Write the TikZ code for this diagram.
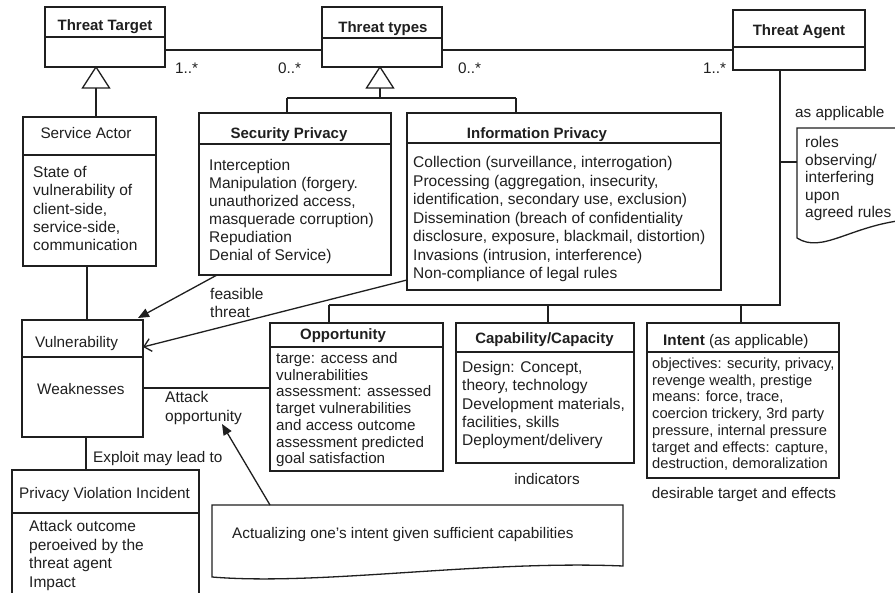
\documentclass[tikz,border=0pt]{standalone}
\usepackage{fontspec}
\setmainfont{Liberation Sans}
\usetikzlibrary{arrows.meta,calc}
\begin{document}
\begin{tikzpicture}[x=1pt,y=-1pt,
  ink/.style={draw=black!88, line width=1.3pt},
  box/.style={ink, rectangle, inner sep=0pt, outer sep=0pt, anchor=north west},
  conn/.style={ink},
  tri/.style={ink, fill=white, line join=miter},
  title/.style={font=\fontsize{15}{18}\selectfont\bfseries, text=black!88, inner sep=0pt, anchor=base},
  plain/.style={font=\fontsize{15.3}{18}\selectfont, text=black!88, inner sep=0pt, anchor=base west},
  bodytext/.style={font=\fontsize{15.5}{#1}\selectfont, text=black!88, inner sep=0pt, anchor=north west, align=left},
  filled/.style={-{Triangle[length=11pt,width=9pt]}},
  openhead/.style={-{Straight Barb[length=7pt,width=13pt]}},
]
\clip (0,0) rectangle (895,593);
\fill[white] (0,0) rectangle (895,593);

% ---------- class boxes ----------
\node[box, minimum width=120pt, minimum height=60pt]  (tt) at (45,7) {};
\node[box, minimum width=120pt, minimum height=60pt]  (ty) at (322,7) {};
\node[box, minimum width=132pt, minimum height=60pt]  (ta) at (733,10) {};
\node[box, minimum width=133pt, minimum height=149pt] (sa) at (23,117) {};
\node[box, minimum width=192pt, minimum height=162pt] (sp) at (199,113) {};
\node[box, minimum width=314pt, minimum height=177pt] (ip) at (407,113) {};
\node[box, minimum width=121pt, minimum height=117pt] (vu) at (22,320) {};
\node[box, minimum width=173pt, minimum height=148pt] (op) at (270,323) {};
\node[box, minimum width=178pt, minimum height=140pt] (cc) at (456,323) {};
\node[box, minimum width=192pt, minimum height=155pt] (in) at (647,323) {};
\node[box, minimum width=187pt, minimum height=140pt] (pv) at (12,470) {};

% compartment dividers
\draw[ink] (tt.west |- 0,37)  -- (tt.east |- 0,37);
\draw[ink] (ty.west |- 0,38)  -- (ty.east |- 0,38);
\draw[ink] (ta.west |- 0,47)  -- (ta.east |- 0,47);
\draw[ink] (sa.west |- 0,155) -- (sa.east |- 0,155);
\draw[ink] (sp.west |- 0,144) -- (sp.east |- 0,144);
\draw[ink] (ip.west |- 0,143) -- (ip.east |- 0,143);
\draw[ink] (vu.west |- 0,357) -- (vu.east |- 0,357);
\draw[ink] (op.west |- 0,347) -- (op.east |- 0,347);
\draw[ink] (cc.west |- 0,352) -- (cc.east |- 0,352);
\draw[ink] (in.west |- 0,352) -- (in.east |- 0,352);
\draw[ink] (pv.west |- 0,513) -- (pv.east |- 0,513);

% ---------- titles ----------
\node[title] (ttT) at (105,30.4)  {Threat Target};
\node[title] (tyT) at (383,32.4)  {Threat types};
\node[title] (taT) at (799,35.4)  {Threat Agent};
\node[title, font=\fontsize{15.3}{18}\selectfont] (saT) at (86,138.4) {Service Actor};
\node[title] (spT) at (289,138.4) {Security Privacy};
\node[title] (ipT) at (537,138.4) {Information Privacy};
\node[plain] (vuT) at (35,347.4)  {Vulnerability};
\node[plain] (vuW) at (37,394.4)  {Weaknesses};
\node[title] (opT) at (343,339.4) {Opportunity};
\node[title] (ccT) at (544.5,343.4) {Capability/Capacity};
\node[plain] (inT) at (663,345.4) {\textbf{Intent} (as applicable)};
\node[plain] (pvT) at (19,498.4)  {Privacy Violation Incident};

% ---------- compartment texts ----------
\node[bodytext=18.3] (saB) at (33,164.6) {\strut State of\\vulnerability of\\client-side,\\service-side,\\communication};
\node[bodytext=18] (spB) at (209,157.8) {\strut Interception\\Manipulation (forgery.\\unauthorized access,\\masquerade corruption)\\Repudiation\\Denial of Service)};
\node[bodytext=18.5] (ipB) at (413,154.5) {\strut Collection (surveillance, interrogation)\\Processing (aggregation, insecurity,\\identification, secondary use, exclusion)\\Dissemination (breach of confidentiality\\disclosure, exposure, blackmail, distortion)\\Invasions (intrusion, interference)\\Non-compliance of legal rules};
\node[bodytext=16.7, font=\fontsize{15.2}{16.7}\selectfont] (opB) at (276,351.7) {\strut targe: access and\\vulnerabilities\\assessment: assessed\\target vulnerabilities\\and access outcome\\assessment predicted\\goal satisfaction};
\node[bodytext=18.3] (ccB) at (462,359.6) {\strut Design: Concept,\\theory, technology\\Development materials,\\facilities, skills\\Deployment/delivery};
\node[bodytext=16.7, font=\fontsize{14.7}{16.7}\selectfont] (inB) at (652,356.7) {\strut objectives: security, privacy,\\revenge wealth, prestige\\means: force, trace,\\coercion trickery, 3rd party\\pressure, internal pressure\\target and effects: capture,\\destruction, demoralization};
\node[bodytext=18.7] (pvB) at (29,518.3) {\strut Attack outcome\\peroeived by the\\threat agent\\Impact};

% ---------- generalizations ----------
\draw[tri] (96,67) -- (82.5,88) -- (109.5,88) -- cycle;
\coordinate (ttg) at (96,88);
\draw[conn] (ttg) -- (ttg |- sa.north);

\draw[tri] (380,67) -- (366.5,88) -- (393.5,88) -- cycle;
\coordinate (tyg) at (380,88);
\coordinate (spbus) at (287,98);
\coordinate (ipbus) at (516,98);
\draw[conn] (tyg) -- (tyg |- spbus);
\draw[conn] (spbus) -- (ipbus);
\draw[conn] (spbus) -- (spbus |- sp.north);
\draw[conn] (ipbus) -- (ipbus |- ip.north);

% ---------- associations ----------
\draw[conn] (tt.east |- 0,50) -- (ty.west |- 0,50);
\draw[conn] (ty.east |- 0,50) -- (ta.west |- 0,50);
\node[plain] (m1) at (175,73.4) {1..*};
\node[plain] (m2) at (278,73.4) {0..*};
\node[plain] (m3) at (458,73.4) {0..*};
\node[plain] (m4) at (703,73.4) {1..*};

\coordinate (tadrop) at (780,70);
\coordinate (bus) at (780,305);
\coordinate (opbus) at (329,305);
\coordinate (ccbus) at (548,305);
\coordinate (inbus) at (741,305);
\draw[conn] (tadrop) -- (bus) -- (opbus);
\draw[conn] (opbus) -- (opbus |- op.north);
\draw[conn] (ccbus) -- (ccbus |- cc.north);
\draw[conn] (inbus) -- (inbus |- in.north);

% note attached to the agent line
\node[plain] (asapp) at (795,117.4) {as applicable};
\coordinate (rolesStub) at (780,162);
\coordinate (rolesEdge) at (797,162);
\draw[conn] (rolesStub) -- (rolesEdge);
\draw[ink] (905,128) -- (797,128) -- (797,238)
  .. controls (822,254) and (850,226) .. (905,220);
\node[bodytext=17.5] (rolesB) at (805,135.2) {\strut roles\\observing/\\interfering\\upon\\agreed rules};

\draw[conn] (sa.south -| 87,0) -- (vu.north -| 87,0);
\draw[conn] (vu.south -| 86,0) -- (pv.north -| 86,0);
\draw[conn] (vu.east |- 0,388) -- (op.west |- 0,388);

% threat arrows into the vulnerability
\draw[conn, filled] ($(sp.south west)+(18,0)$) -- ($(vu.north east)+(-5,-2)$);
\draw[conn, openhead] ($(ip.south west)+(0,-10)$) -- (vu.east |- 0,347);
\node[bodytext=18] (feas) at (210,286.8) {\strut feasible\\threat};

\node[bodytext=19] (atk) at (165,389.1) {\strut Attack\\opportunity};
\node[plain] (expl) at (93,462.4) {Exploit may lead to};
\node[plain, anchor=base] (ind) at (547,484.4) {indicators};
\node[plain, anchor=base] (des) at (744,498.4) {desirable target and effects};

% actualization note
\draw[ink] (212,505) -- (623,505) -- (623,566)
  .. controls (480,560) and (320,586) .. (212,577) -- cycle;
\node[plain] (actT) at (232,538.4) {Actualizing one’s intent given sufficient capabilities};
\coordinate (actTop) at (270,505);
\coordinate (atkTip) at (222,424);
\draw[conn, filled] (actTop) -- (atkTip);
\end{tikzpicture}
\end{document}
